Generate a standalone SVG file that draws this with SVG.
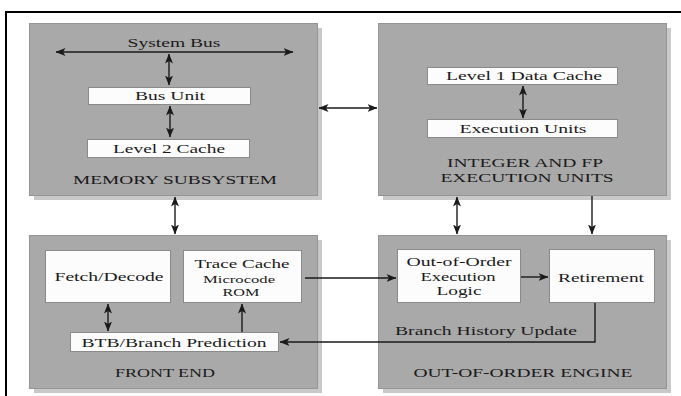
<svg xmlns="http://www.w3.org/2000/svg" width="681" height="396" viewBox="0 0 681 396">
<style>
.shadow{fill:#c9c9c9}
.block{fill:#a9a9a9;stroke:#959595;stroke-width:1}
.inner{fill:#fcfcfc;stroke:#8a8a8a;stroke-width:1}
text{font-family:"Liberation Serif","Times New Roman",serif;fill:#1a1a1a;text-anchor:middle}
.lbl{font-size:13px}
.small{font-size:10px}
.title{font-size:13.5px}
.title2{font-size:13px}
.conn{stroke:#1a1a1a;stroke-width:1.4;fill:none}
</style>
<defs>
<marker id="ah" viewBox="0 0 10 8" refX="9.5" refY="4" markerWidth="10" markerHeight="8" markerUnits="userSpaceOnUse" orient="auto-start-reverse">
<path d="M0,0 L10,4 L0,8 L2.5,4 Z" fill="#1a1a1a"/>
</marker>
</defs>
<rect x="0" y="0" width="681" height="396" fill="#ffffff"/>
<path d="M6,396 V12 H681" fill="none" stroke="#000" stroke-width="2"/>

<g id="memory-subsystem">
<rect class="shadow" x="34" y="28" width="288" height="172"/>
<rect class="block" x="29.5" y="23.5" width="288" height="172"/>
<text class="lbl" transform="translate(174,47) scale(1.4,1)" textLength="66.4" lengthAdjust="spacingAndGlyphs">System Bus</text>
<g id="bus-unit">
<rect class="inner" x="88.5" y="87.5" width="162" height="17"/>
<text class="lbl" transform="translate(170,100) scale(1.4,1)" textLength="50" lengthAdjust="spacingAndGlyphs">Bus Unit</text>
</g>
<g id="level2-cache">
<rect class="inner" x="87.5" y="139.5" width="162" height="18"/>
<text class="lbl" transform="translate(169,153) scale(1.4,1)" textLength="80" lengthAdjust="spacingAndGlyphs">Level 2 Cache</text>
</g>
<text class="title" transform="translate(175,184) scale(1.4,1)" textLength="145.7" lengthAdjust="spacingAndGlyphs">MEMORY SUBSYSTEM</text>
</g>

<g id="integer-fp">
<rect class="shadow" x="383" y="28" width="288" height="172"/>
<rect class="block" x="378.5" y="23.5" width="288" height="172"/>
<g id="level1-data-cache">
<rect class="inner" x="427.5" y="67.5" width="190" height="17"/>
<text class="lbl" transform="translate(524,80) scale(1.4,1)" textLength="111.4" lengthAdjust="spacingAndGlyphs">Level 1 Data Cache</text>
</g>
<g id="execution-units">
<rect class="inner" x="427.5" y="119.5" width="190" height="18"/>
<text class="lbl" transform="translate(523,133) scale(1.4,1)" textLength="90.7" lengthAdjust="spacingAndGlyphs">Execution Units</text>
</g>
<text class="title2" transform="translate(525,166.5) scale(1.4,1)" textLength="111.4" lengthAdjust="spacingAndGlyphs">INTEGER AND FP</text>
<text class="title2" transform="translate(527,181.5) scale(1.4,1)" textLength="123.6" lengthAdjust="spacingAndGlyphs">EXECUTION UNITS</text>
</g>

<g id="front-end">
<rect class="shadow" x="34" y="240" width="288" height="153"/>
<rect class="block" x="29.5" y="235.5" width="288" height="153"/>
<g id="fetch-decode">
<rect class="inner" x="45.5" y="250.5" width="125" height="52"/>
<text class="lbl" transform="translate(109,281) scale(1.4,1)" textLength="77.9" lengthAdjust="spacingAndGlyphs">Fetch/Decode</text>
</g>
<g id="trace-cache">
<rect class="inner" x="183.5" y="250.5" width="118" height="52"/>
<text class="lbl" transform="translate(242,268) scale(1.4,1)" textLength="67.9" lengthAdjust="spacingAndGlyphs">Trace Cache</text>
<text class="small" transform="translate(239,283) scale(1.4,1)" textLength="51.4" lengthAdjust="spacingAndGlyphs">Microcode</text>
<text class="small" transform="translate(241,296) scale(1.4,1)" textLength="26.4" lengthAdjust="spacingAndGlyphs">ROM</text>
</g>
<g id="btb">
<rect class="inner" x="70.5" y="332.5" width="208" height="19"/>
<text class="lbl" transform="translate(174,347) scale(1.4,1)" textLength="132.1" lengthAdjust="spacingAndGlyphs">BTB/Branch Prediction</text>
</g>
<text class="title" transform="translate(165,377) scale(1.4,1)" textLength="71.4" lengthAdjust="spacingAndGlyphs">FRONT END</text>
</g>

<g id="ooo-engine">
<rect class="shadow" x="383" y="240" width="288" height="153"/>
<rect class="block" x="378.5" y="235.5" width="288" height="153"/>
<g id="ooo-logic">
<rect class="inner" x="397.5" y="249.5" width="123" height="53"/>
<text class="lbl" transform="translate(459,266) scale(1.4,1)" textLength="75" lengthAdjust="spacingAndGlyphs">Out-of-Order</text>
<text class="lbl" transform="translate(458,281) scale(1.4,1)" textLength="53.6" lengthAdjust="spacingAndGlyphs">Execution</text>
<text class="lbl" transform="translate(459,295) scale(1.4,1)" textLength="32.1" lengthAdjust="spacingAndGlyphs">Logic</text>
</g>
<g id="retirement">
<rect class="inner" x="549.5" y="249.5" width="105" height="53"/>
<text class="lbl" transform="translate(601,282) scale(1.4,1)" textLength="61.4" lengthAdjust="spacingAndGlyphs">Retirement</text>
</g>
<text class="lbl" transform="translate(486,335) scale(1.4,1)" textLength="130" lengthAdjust="spacingAndGlyphs">Branch History Update</text>
<text class="title" transform="translate(523,377) scale(1.4,1)" textLength="156.4" lengthAdjust="spacingAndGlyphs">OUT-OF-ORDER ENGINE</text>
</g>

<g id="connectors">
<line class="conn" x1="56" y1="52" x2="293" y2="52" marker-start="url(#ah)" marker-end="url(#ah)"/>
<line class="conn" x1="169" y1="54" x2="169" y2="85" marker-start="url(#ah)" marker-end="url(#ah)"/>
<line class="conn" x1="170" y1="106" x2="170" y2="137" marker-start="url(#ah)" marker-end="url(#ah)"/>
<line class="conn" x1="319" y1="108" x2="377" y2="108" marker-start="url(#ah)" marker-end="url(#ah)"/>
<line class="conn" x1="523" y1="86" x2="523" y2="118" marker-start="url(#ah)" marker-end="url(#ah)"/>
<line class="conn" x1="175" y1="197" x2="175" y2="234" marker-start="url(#ah)" marker-end="url(#ah)"/>
<line class="conn" x1="457" y1="197" x2="457" y2="234" marker-start="url(#ah)" marker-end="url(#ah)"/>
<line class="conn" x1="592" y1="196" x2="592" y2="234" marker-end="url(#ah)"/>
<line class="conn" x1="305" y1="278" x2="396" y2="278" marker-end="url(#ah)"/>
<line class="conn" x1="521" y1="277" x2="548" y2="277" marker-end="url(#ah)"/>
<line class="conn" x1="108" y1="304" x2="108" y2="331" marker-start="url(#ah)" marker-end="url(#ah)"/>
<line class="conn" x1="242" y1="332" x2="242" y2="304" marker-end="url(#ah)"/>
<path class="conn" d="M595,303 V342 H280" marker-end="url(#ah)"/>
</g>
</svg>
